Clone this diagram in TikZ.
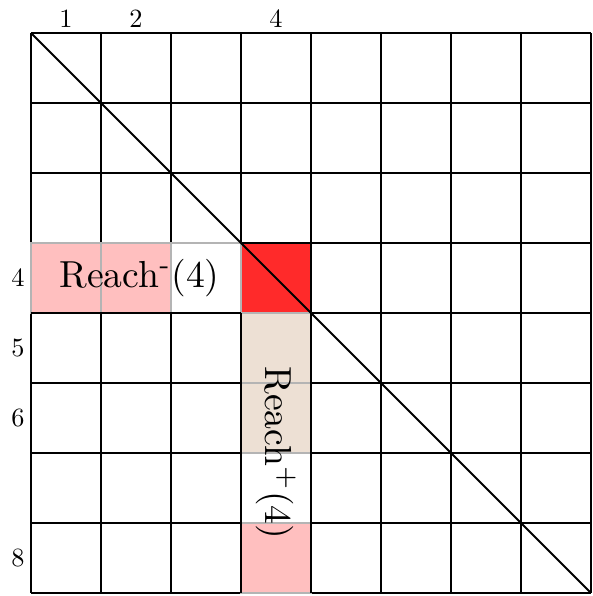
\documentclass[tikz,border=0pt]{standalone}
\usepackage{tikz}
\usetikzlibrary{positioning}
\definecolor{cInk}{HTML}{000000}
\definecolor{cEdge}{HTML}{b4b4b4}
\definecolor{cPink}{HTML}{ffbfbf}
\definecolor{cBeige}{HTML}{ede0d4}
\definecolor{cRed}{HTML}{ff2a2a}
\tikzset{
  gridline/.style={draw=cInk, line width=0.75pt},
  cell/.style={draw=cEdge, line width=0.75pt, fill=#1},
  hot/.style={draw=cInk, line width=0.75pt, fill=cRed},
  idx/.style={font=\normalsize, text=cInk, inner sep=1pt, scale=1.07, transform shape},
  reach/.style={font=\normalsize, text=cInk, inner sep=0pt, scale=1.53, transform shape},
}

\begin{document}
\begin{tikzpicture}
\useasboundingbox (-0.443,-0.043) rectangle (8.014,8.471);

% ===================== matrix grid =====================
\draw[gridline] (0,0) grid (8,8);

% ===================== vertex 4 =====================
\draw[hot] (3,4) rectangle (4,5);

% row 4: Reach- cells
\draw[cell=cPink] (0,4) rectangle (1,5);
\draw[cell=cPink] (1,4) rectangle (2,5);
\draw[cell=white] (2,4) rectangle (3,5);

% column 4: Reach+ cells
\draw[cell=cBeige] (3,3) rectangle (4,4);
\draw[cell=cBeige] (3,2) rectangle (4,3);
\draw[cell=white] (3,1) rectangle (4,2);
\draw[cell=cPink] (3,0) rectangle (4,1);

% black edges over the cells
\draw[gridline] (0,4) -- (3,4) (3,0) -- (3,4) (4,0) -- (4,4);

% diagonal
\draw[gridline] (0,8) -- (8,0);

% ===================== indices =====================
\node[idx] (c1) at (0.5,8.21) {1};
\node[idx] (c2) at (1.5,8.21) {2};
\node[idx] (c4) at (3.5,8.21) {4};
\node[idx] (r4) at (-0.186,4.5) {4};
\node[idx] (r5) at (-0.186,3.5) {5};
\node[idx] (r6) at (-0.186,2.5) {6};
\node[idx] (r8) at (-0.186,0.5) {8};

% ===================== labels =====================
\node[reach] (rminus) at (1.55,4.5) {Reach\textsuperscript{-}(4)};
\node[reach, rotate=-90] (rplus) at (3.5,2) {Reach$^{+}$(4)};

\end{tikzpicture}
\end{document}
